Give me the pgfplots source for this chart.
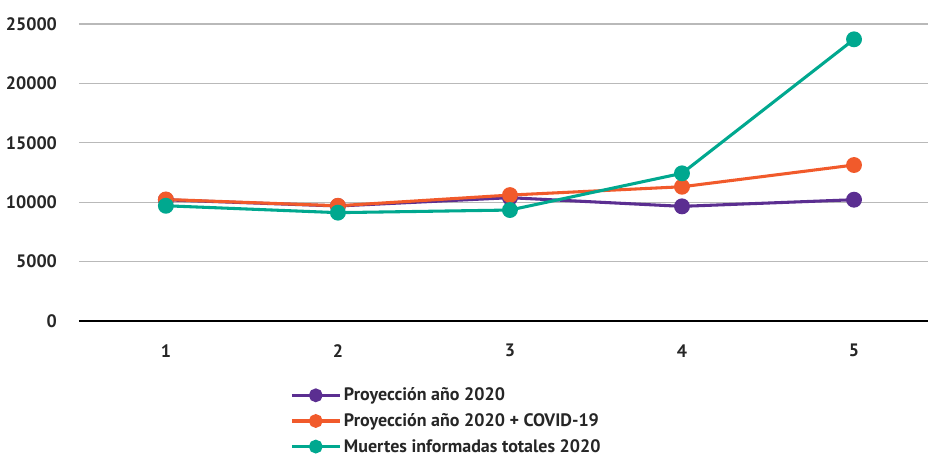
\documentclass[border=0pt]{standalone}
\usepackage{fontspec}
\setmainfont{PT Sans}
\usepackage{pgfplots}
\pgfplotsset{compat=1.18}
\definecolor{cpurple}{HTML}{5B2E91}
\definecolor{corange}{HTML}{F15A2B}
\definecolor{cgreen}{HTML}{00A88F}
\begin{document}
\begin{tikzpicture}
\useasboundingbox (-59.25pt,-102pt) rectangle (636.75pt,240.75pt);
\begin{axis}[
  at={(0,0)}, anchor=origin,
  scale only axis, width=636.75pt, height=222.75pt,
  xmin=0.495, xmax=5.43, ymin=0, ymax=25000,
  xtick={1,2,3,4,5}, ytick={0,5000,10000,15000,20000,25000},
  axis x line=bottom, axis y line*=left,
  x axis line style={black, line width=0.9pt, -},
  y axis line style={draw=none},
  ymajorgrids, grid style={gray!55, line width=0.9pt},
  major tick length=0pt,
  yticklabel style={xshift=-13pt},
  xticklabel style={yshift=-14pt},
  ticklabel style={font=\fontsize{13.5}{15}\selectfont\bfseries, color=black!85},
  /pgf/number format/assume math mode=true,
  /pgf/number format/set thousands separator={},
  scaled y ticks=false,
  every axis plot/.append style={line width=2.3pt, mark=*, mark size=4.8pt},
  legend style={at={(0.2485,-0.215)}, anchor=north west, draw=none, fill=none,
    font=\fontsize{13.5}{15}\selectfont\bfseries, text=black!85,
    row sep=4pt, inner sep=0pt},
  legend cell align=left,
  legend image code/.code={\draw[#1, mark repeat=2, mark phase=2, mark size=4pt] plot coordinates {(0pt,0pt) (18pt,0pt) (36pt,0pt)};},
  clip=false,
]
\addplot[color=cpurple, mark options={fill=cpurple}] coordinates {(1,10200) (2,9680) (3,10380) (4,9650) (5,10210)};
\addlegendentry{Proyección año 2020}
\addplot[color=corange, mark options={fill=corange}] coordinates {(1,10230) (2,9700) (3,10600) (4,11300) (5,13130)};
\addlegendentry{Proyección año 2020 + COVID-19}
\addplot[color=cgreen, mark options={fill=cgreen}] coordinates {(1,9700) (2,9120) (3,9340) (4,12430) (5,23710)};
\addlegendentry{Muertes informadas totales 2020}
\end{axis}
\end{tikzpicture}
\end{document}
